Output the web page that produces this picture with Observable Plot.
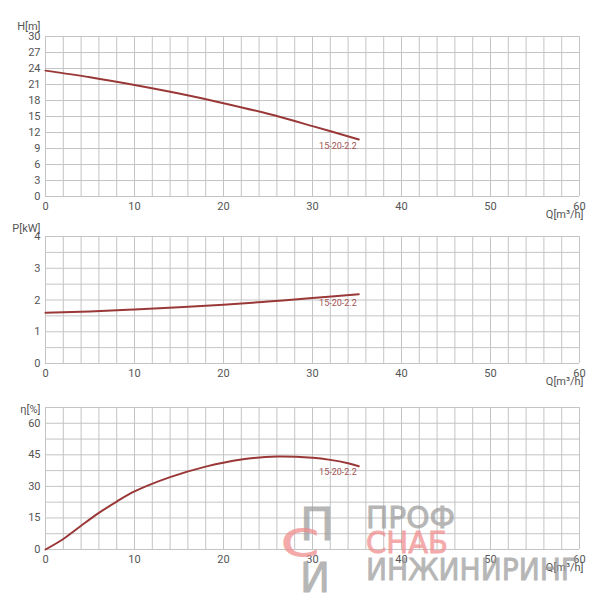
<!DOCTYPE html>
<html>
<head>
<meta charset="utf-8">
<script src="https://cdn.jsdelivr.net/npm/d3@7"></script>
<script src="https://cdn.jsdelivr.net/npm/@observablehq/plot@0.6"></script>
<style>
  html, body { margin: 0; padding: 0; background: #ffffff; }
  #wrap { position: relative; width: 597px; height: 600px; font-family: Roboto, sans-serif; overflow: hidden; }
  #wrap > svg, #wrap > div { position: absolute; left: 0; }
</style>
</head>
<body>
<div id="wrap"></div>
<script>
// ---- data ----
const model = "15-20-2.2";
const qH = [0, 5, 10, 15, 20, 25, 30, 35.2];
const hVals = [23.6, 22.35, 20.9, 19.3, 17.5, 15.5, 13.2, 10.7];
const qP = [0, 5, 10, 15, 20, 25, 30, 35.2];
const pVals = [1.60, 1.64, 1.70, 1.77, 1.85, 1.95, 2.06, 2.18];
const qE = [0, 2, 4, 6, 8, 10, 14, 18, 22, 26, 30, 32, 34, 35.2];
const eVals = [0, 5.0, 11.3, 17.4, 22.8, 27.6, 34.4, 39.4, 42.8, 44.2, 43.6, 42.6, 41.0, 39.6];
const xTicks = [0, 10, 20, 30, 40, 50, 60];
const hTicks = [0, 3, 6, 9, 12, 15, 18, 21, 24, 27, 30];
const pTicks = [0, 1, 2, 3, 4];
const eTicks = [0, 15, 30, 45, 60];
const xLabel = "Q[m³/h]";
const wm1 = "ПРОФ", wm2 = "СНАБ", wm3 = "ИНЖИНИРИНГ";

const lineColor = "#9a3838";
const gridColor = "#c4c4c4";
const textColor = "#555555";
const wrap = document.getElementById("wrap");

function panel({top, marginTop, plotH, yDomain, yGrid, yTicks, yLabel, yLabelDy, qs, vs, labelDy}) {
  const data = qs.map((q, i) => ({q, v: vs[i]}));
  const last = data[data.length - 1];
  const svg = Plot.plot({
    width: 597,
    height: marginTop + plotH + 29,
    marginLeft: 45, marginRight: 18, marginTop, marginBottom: 29,
    style: {fontFamily: "Roboto, sans-serif", background: "transparent", color: textColor},
    x: {domain: [0, 60]},
    y: {domain: yDomain},
    marks: [
      Plot.gridX(d3.range(0, 61, 2), {stroke: gridColor, strokeOpacity: 1, strokeWidth: 1}),
      Plot.gridY(yGrid, {stroke: gridColor, strokeOpacity: 1, strokeWidth: 1}),
      Plot.axisX(xTicks, {tickSize: 0, tickPadding: 6, label: null, fontSize: 11, fill: textColor}),
      Plot.axisY(yTicks, {tickSize: 0, tickPadding: 5, label: null, fontSize: 11, fill: textColor}),
      Plot.line(data, {x: "q", y: "v", curve: "catmull-rom", stroke: lineColor, strokeWidth: 2}),
      Plot.text([model], {x: last.q, y: last.v, text: d => d, textAnchor: "end", dx: -2, dy: labelDy, fontSize: 9, fill: "#a35454"}),
      Plot.text([yLabel], {frameAnchor: "top-left", text: d => d, textAnchor: "end", dx: -5, dy: yLabelDy, fontSize: 11, fill: textColor}),
      Plot.text([xLabel], {frameAnchor: "bottom-right", text: d => d, textAnchor: "end", dx: 4, dy: 21, fontSize: 11, fill: textColor})
    ]
  });
  svg.style.top = top + "px";
  wrap.appendChild(svg);
}

panel({top: 0, marginTop: 36, plotH: 160, yDomain: [0, 30], yGrid: d3.range(0, 31, 3), yTicks: hTicks,
       yLabel: "H[m]", yLabelDy: -14, qs: qH, vs: hVals, labelDy: 7});
panel({top: 215, marginTop: 21, plotH: 127, yDomain: [0, 4], yGrid: d3.range(0, 4.01, 0.5), yTicks: pTicks,
       yLabel: "P[kW]", yLabelDy: -12, qs: qP, vs: pVals, labelDy: 9});
panel({top: 385, marginTop: 22, plotH: 142, yDomain: [0, 67.5], yGrid: d3.range(0, 67.6, 7.5), yTicks: eTicks,
       yLabel: "η[%]", yLabelDy: -2, qs: qE, vs: eVals, labelDy: 6});

// watermark overlay
const ns = "http://www.w3.org/2000/svg";
const wm = document.createElementNS(ns, "svg");
wm.setAttribute("width", 597); wm.setAttribute("height", 600);
wm.style.position = "absolute"; wm.style.left = "0"; wm.style.top = "0";
function t(str, x, y, size, len, fill) {
  const e = document.createElementNS(ns, "text");
  e.setAttribute("x", x); e.setAttribute("y", y);
  e.setAttribute("font-family", "DejaVu Sans, sans-serif");
  e.setAttribute("font-size", size);
  e.setAttribute("textLength", len);
  e.setAttribute("lengthAdjust", "spacingAndGlyphs");
  e.setAttribute("fill", fill);
  e.setAttribute("stroke", fill);
  e.setAttribute("stroke-width", "0.9");
  e.setAttribute("opacity", "0.72");
  e.textContent = str;
  wm.appendChild(e);
}
t(wm1, 366, 528, 31, 89, "#9a9a9a");
t(wm2, 366, 553, 31, 82, "#f08a8a");
t(wm3, 366, 580, 31, 212, "#9a9a9a");
t("П", 300, 540, 44, 34, "#9a9a9a");
t("С", 281, 556, 38, 38, "#f08a8a");
t("И", 300, 592, 40, 30, "#9a9a9a");
wrap.appendChild(wm);
</script>
</body>
</html>
